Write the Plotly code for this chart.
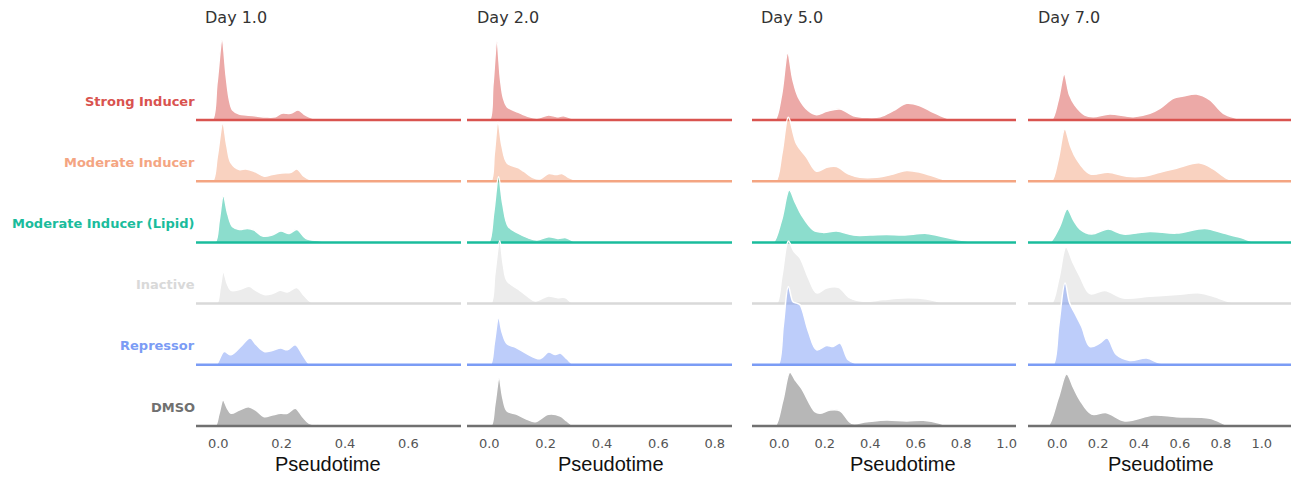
import plotly.graph_objects as go

# Conditions (top to bottom) and their colours
CONDITIONS = ["Strong Inducer", "Moderate Inducer", "Moderate Inducer (Lipid)",
              "Inactive", "Repressor", "DMSO"]
COLORS = ["#d9534f", "#f4a582", "#1abc9c", "#d9d9d9", "#7b9cf5", "#707070"]

DAYS = ["Day 1.0", "Day 2.0", "Day 5.0", "Day 7.0"]
TICKS = [[0.0, 0.2, 0.4, 0.6],
         [0.0, 0.2, 0.4, 0.6, 0.8],
         [0.0, 0.2, 0.4, 0.6, 0.8, 1.0],
         [0.0, 0.2, 0.4, 0.6, 0.8, 1.0]]
X_RANGES = [[-0.0704, 0.766], [-0.079, 0.861], [-0.120, 1.041], [-0.143, 1.143]]

# Pseudotime density profiles: (pseudotime, density) per condition
DAY1 = {
    "Strong Inducer": [(-0.04, 0), (-0.019, 0), (-0.004, 37), (0.012, 80), (0.025, 43), (0.035, 20),
                       (0.045, 10), (0.066, 6), (0.088, 5), (0.12, 4), (0.15, 3), (0.18, 3.3),
                       (0.2, 6.7), (0.228, 6.7), (0.252, 10), (0.27, 6), (0.286, 3.3), (0.305, 1),
                       (0.32, 0), (0.35, 0)],
    "Moderate Inducer": [(-0.04, 0), (-0.018, 0), (-0.003, 25), (0.014, 57.7), (0.027, 35), (0.04, 18.3),
                         (0.066, 11.7), (0.087, 12.3), (0.113, 10), (0.145, 5), (0.17, 6.7), (0.2, 8.3),
                         (0.23, 9), (0.248, 12.3), (0.27, 5), (0.29, 1.5), (0.31, 0), (0.34, 0)],
    "Moderate Inducer (Lipid)": [(-0.03, 0), (-0.01, 0), (0.003, 22), (0.016, 46.3), (0.03, 28), (0.045, 15.7),
                                 (0.066, 13), (0.092, 14), (0.113, 12.3), (0.14, 6.3), (0.17, 7.3),
                                 (0.197, 11.3), (0.224, 9), (0.248, 13), (0.276, 4), (0.318, 1.7),
                                 (0.36, 0), (0.39, 0)],
    "Inactive": [(-0.025, 0), (-0.005, 0), (0.006, 16), (0.016, 31.7), (0.028, 20), (0.04, 13.3),
                 (0.066, 14), (0.097, 17.3), (0.118, 13.3), (0.145, 9), (0.17, 10), (0.195, 13.3),
                 (0.218, 11.7), (0.248, 16), (0.27, 8.3), (0.292, 1.7), (0.32, 0), (0.35, 0)],
    "Repressor": [(-0.025, 0), (-0.007, 0), (0.018, 13.3), (0.04, 10), (0.07, 18), (0.1, 26.7),
                  (0.12, 20), (0.145, 13.3), (0.17, 14.3), (0.197, 16.7), (0.218, 15), (0.243, 20),
                  (0.266, 10), (0.29, 0), (0.32, 0)],
    "DMSO": [(-0.03, 0), (-0.01, 0), (0.002, 12), (0.015, 26), (0.028, 18), (0.04, 12.7), (0.066, 16),
             (0.095, 19.3), (0.118, 16), (0.145, 9.3), (0.17, 11), (0.197, 12.7), (0.218, 12.7),
             (0.243, 17.7), (0.266, 9.3), (0.287, 2.7), (0.318, 1), (0.35, 0), (0.38, 0)],
}

DAY2 = {
    "Strong Inducer": [(-0.02, 0), (0.001, 0), (0.013, 35), (0.027, 78.3), (0.04, 40), (0.05, 22),
                       (0.063, 13.3), (0.098, 8.3), (0.134, 4), (0.169, 1.7), (0.21, 5), (0.24, 3.3),
                       (0.263, 4.3), (0.293, 1.7), (0.317, 0), (0.35, 0)],
    "Moderate Inducer": [(-0.015, 0), (0.006, 0), (0.018, 28), (0.031, 59), (0.045, 35), (0.063, 18.3),
                         (0.104, 13.3), (0.122, 10), (0.157, 3.3), (0.18, 2.3), (0.211, 7.7),
                         (0.237, 6.7), (0.258, 7.7), (0.284, 3.3), (0.32, 0), (0.35, 0)],
    "Moderate Inducer (Lipid)": [(-0.02, 0), (-0.0015, 0), (0.016, 30), (0.033, 65.7), (0.048, 38),
                                 (0.068, 15.7), (0.104, 9), (0.134, 5), (0.169, 2.3), (0.211, 5.7),
                                 (0.243, 4), (0.272, 4.7), (0.302, 0.7), (0.32, 0), (0.35, 0)],
    "Inactive": [(-0.015, 0), (0.006, 0), (0.02, 30), (0.037, 62.7), (0.05, 38), (0.063, 22.7),
                 (0.104, 14.3), (0.134, 7.7), (0.163, 2.7), (0.21, 7.7), (0.24, 6), (0.269, 6),
                 (0.293, 1), (0.31, 0), (0.34, 0)],
    "Repressor": [(-0.015, 0), (0.004, 0), (0.018, 22), (0.033, 47), (0.046, 32), (0.063, 21),
                  (0.092, 17.7), (0.134, 11), (0.18, 6), (0.21, 12.7), (0.234, 10.3), (0.252, 11.7),
                  (0.275, 6), (0.3, 0), (0.33, 0)],
    "DMSO": [(-0.015, 0), (0.006, 0), (0.02, 22), (0.035, 47.7), (0.048, 28), (0.063, 15),
             (0.098, 11.7), (0.134, 6.7), (0.163, 4.3), (0.21, 11.7), (0.252, 10), (0.275, 5),
             (0.3, 0), (0.33, 0)],
}

DAY5 = {
    "Strong Inducer": [(-0.045, 0), (-0.019, 0), (0.01, 25), (0.037, 66.7), (0.06, 40), (0.084, 22.7),
                       (0.128, 9.3), (0.164, 5.3), (0.208, 8.7), (0.267, 11), (0.326, 4.3), (0.384, 2.7),
                       (0.443, 3.3), (0.501, 9.3), (0.56, 16.7), (0.619, 14.3), (0.677, 7.7),
                       (0.736, 2), (0.765, 0), (0.8, 0)],
    "Moderate Inducer": [(-0.04, 0), (-0.015, 0), (0.012, 28), (0.04, 64), (0.076, 37.3), (0.12, 24),
                         (0.164, 10), (0.208, 14), (0.252, 14.7), (0.303, 7.3), (0.355, 4), (0.428, 4),
                         (0.501, 7.3), (0.56, 10.7), (0.619, 9), (0.692, 4), (0.75, 0), (0.79, 0)],
    "Moderate Inducer (Lipid)": [(-0.05, 0), (-0.026, 0), (0.01, 22), (0.044, 52.3), (0.07, 40),
                                 (0.098, 27.3), (0.15, 12.3), (0.194, 10), (0.252, 11.3), (0.326, 7.3),
                                 (0.399, 7.3), (0.472, 8), (0.545, 7.3), (0.648, 9), (0.721, 5.7),
                                 (0.794, 2.3), (0.868, 0), (0.9, 0)],
    "Inactive": [(-0.04, 0), (-0.012, 0), (0.012, 28), (0.04, 62.3), (0.065, 52), (0.091, 45.7),
                 (0.128, 25.7), (0.164, 10.7), (0.208, 15.7), (0.26, 16.3), (0.311, 5.7), (0.369, 2.3),
                 (0.457, 4), (0.545, 5.7), (0.648, 4.7), (0.706, 1.7), (0.75, 0), (0.79, 0)],
    "Repressor": [(-0.03, 0), (-0.005, 0), (0.018, 40), (0.04, 78.3), (0.06, 63), (0.076, 61.7),
                  (0.091, 60), (0.128, 33.3), (0.164, 15), (0.208, 19.3), (0.237, 18.3), (0.267, 21.7),
                  (0.303, 5), (0.34, 1), (0.37, 0), (0.41, 0)],
    "DMSO": [(-0.045, 0), (-0.018, 0), (0.015, 25), (0.047, 53.7), (0.07, 46), (0.098, 37.7),
             (0.157, 14.3), (0.179, 12.7), (0.223, 16), (0.267, 15.3), (0.318, 2.7), (0.384, 4.3),
             (0.472, 6), (0.56, 5), (0.633, 5.7), (0.706, 2.7), (0.736, 0), (0.77, 0)],
}

DAY7 = {
    "Strong Inducer": [(-0.06, 0), (-0.028, 0), (0.005, 20), (0.034, 45.7), (0.06, 25), (0.086, 15),
                       (0.135, 5), (0.176, 3.3), (0.257, 6), (0.372, 3.3), (0.453, 6.7), (0.502, 11.7),
                       (0.567, 21.7), (0.616, 24), (0.681, 26), (0.747, 20), (0.812, 6.7),
                       (0.877, 1.7), (0.91, 0), (0.95, 0)],
    "Moderate Inducer": [(-0.06, 0), (-0.028, 0), (0.005, 22), (0.037, 52.3), (0.065, 35), (0.094, 22.3),
                         (0.16, 7.3), (0.249, 9), (0.339, 5), (0.42, 5), (0.502, 9), (0.583, 13),
                         (0.698, 18.3), (0.763, 12.3), (0.828, 3), (0.877, 0), (0.92, 0)],
    "Moderate Inducer (Lipid)": [(-0.065, 0), (-0.036, 0), (0.01, 15), (0.049, 33.3), (0.08, 22),
                                 (0.111, 13.3), (0.168, 8.3), (0.249, 13.3), (0.323, 8.3), (0.453, 11),
                                 (0.583, 9.3), (0.722, 14), (0.812, 9.3), (0.894, 5), (0.959, 0.7),
                                 (0.99, 0), (1.03, 0)],
    "Inactive": [(-0.06, 0), (-0.028, 0), (0.008, 25), (0.043, 56.7), (0.075, 42), (0.111, 27.3),
                 (0.16, 10), (0.233, 13), (0.323, 5.7), (0.453, 7.3), (0.583, 9), (0.698, 10.7),
                 (0.763, 7.3), (0.844, 1.7), (0.88, 0), (0.92, 0)],
    "Repressor": [(-0.05, 0), (-0.02, 0), (0.008, 40), (0.038, 81.7), (0.06, 62), (0.086, 51.7),
                  (0.119, 38.3), (0.16, 18.3), (0.208, 21.7), (0.244, 26.7), (0.29, 10), (0.355, 4.3),
                  (0.437, 6.7), (0.502, 1.7), (0.567, 1), (0.61, 0), (0.65, 0)],
    "DMSO": [(-0.075, 0), (-0.045, 0), (0.005, 28), (0.046, 52), (0.08, 38), (0.111, 26),
             (0.168, 12), (0.241, 13.3), (0.331, 5), (0.47, 11), (0.583, 9.3), (0.747, 7.7),
             (0.828, 1), (0.86, 0), (0.9, 0)],
}

DAY_DATA = [DAY1, DAY2, DAY5, DAY7]

# ---- layout constants ----
W, H = 1291, 478
PLOT_BOTTOM_PX = 434             # bottom edge of the plotting area
ROW_PX = 61.2                    # vertical spacing between ridges, px
DENSITY_SCALE = 1.0 / ROW_PX     # density units -> row units
N = len(CONDITIONS)
Y_RANGE = [-(PLOT_BOTTOM_PX - 426) / ROW_PX, 426 / ROW_PX]
COL_PX = [(196, 461), (467, 732), (752, 1016), (1028, 1291)]
TITLE_X = [203, 475, 759, 1036]
XLABEL_X = [327.5, 611, 902.5, 1161]
FONT = "DejaVu Sans, Verdana, sans-serif"


def py(px):
    """Pixel row -> paper y (paper spans the plotting area)."""
    return (PLOT_BOTTOM_PX - px) / PLOT_BOTTOM_PX


def rgba(hex_color, a):
    h = hex_color.lstrip("#")
    r, g, b = int(h[0:2], 16), int(h[2:4], 16), int(h[4:6], 16)
    return f"rgba({r},{g},{b},{a})"


fig = go.Figure()

for ci, day in enumerate(DAY_DATA):
    xa = "x" if ci == 0 else f"x{ci + 1}"
    ya = "y" if ci == 0 else f"y{ci + 1}"
    lo, hi = X_RANGES[ci]
    for ri, cond in enumerate(CONDITIONS):
        base = N - 1 - ri
        color = COLORS[ri]
        pts = day[cond]
        xs = [lo] + [p[0] for p in pts] + [hi]
        ys = [base] + [base + p[1] * DENSITY_SCALE for p in pts] + [base]
        # invisible floor the ridge fills down to
        fig.add_trace(go.Scatter(x=[lo, hi], y=[base, base], mode="lines",
                                 line=dict(width=0, color=color), xaxis=xa, yaxis=ya,
                                 hoverinfo="skip", showlegend=False))
        # filled density with white edge
        fig.add_trace(go.Scatter(x=xs, y=ys, mode="lines", fill="tonexty",
                                 fillcolor=rgba(color, 0.5),
                                 line=dict(color="white", width=1.5, shape="spline", smoothing=1),
                                 xaxis=xa, yaxis=ya, name=cond, showlegend=False))
        # coloured baseline
        fig.add_trace(go.Scatter(x=[lo, hi], y=[base, base], mode="lines",
                                 line=dict(color=color, width=2.5), xaxis=xa, yaxis=ya,
                                 hoverinfo="skip", showlegend=False))

layout = dict(
    width=W, height=H,
    margin=dict(l=0, r=0, t=0, b=H - PLOT_BOTTOM_PX),
    paper_bgcolor="white", plot_bgcolor="white",
    showlegend=False,
)
for ci in range(4):
    xk = "xaxis" if ci == 0 else f"xaxis{ci + 1}"
    yk = "yaxis" if ci == 0 else f"yaxis{ci + 1}"
    x0, x1 = COL_PX[ci]
    layout[xk] = dict(
        domain=[x0 / W, x1 / W], range=X_RANGES[ci],
        anchor="y" if ci == 0 else f"y{ci + 1}",
        showgrid=False, zeroline=False, showline=False, ticks="",
        tickvals=TICKS[ci], ticktext=[f"{t:.1f}" for t in TICKS[ci]],
        tickfont=dict(family=FONT, size=13, color="#555555"),
    )
    layout[yk] = dict(
        domain=[0, 1], range=Y_RANGE,
        anchor="x" if ci == 0 else f"x{ci + 1}",
        visible=False, showgrid=False, zeroline=False,
    )
fig.update_layout(**layout)

annotations = []
for ci, title in enumerate(DAYS):
    annotations.append(dict(text=title, x=TITLE_X[ci] / W, y=py(17.5),
                            xref="paper", yref="paper", xanchor="left", yanchor="middle",
                            showarrow=False, font=dict(family=FONT, size=16, color="#333333")))
    annotations.append(dict(text="Pseudotime", x=XLABEL_X[ci] / W, y=py(464),
                            xref="paper", yref="paper", xanchor="center", yanchor="middle",
                            showarrow=False,
                            font=dict(family="Liberation Sans, Arial, sans-serif", size=20,
                                      color="#111111")))
for ri, cond in enumerate(CONDITIONS):
    base_px = 120 + ri * ROW_PX
    annotations.append(dict(text=f"<b>{cond}</b>", x=197 / W, y=py(base_px - 19),
                            xref="paper", yref="paper", xanchor="right", yanchor="middle",
                            showarrow=False, font=dict(family=FONT, size=13, color=COLORS[ri])))
fig.update_layout(annotations=annotations)

fig.write_html("out.html")
